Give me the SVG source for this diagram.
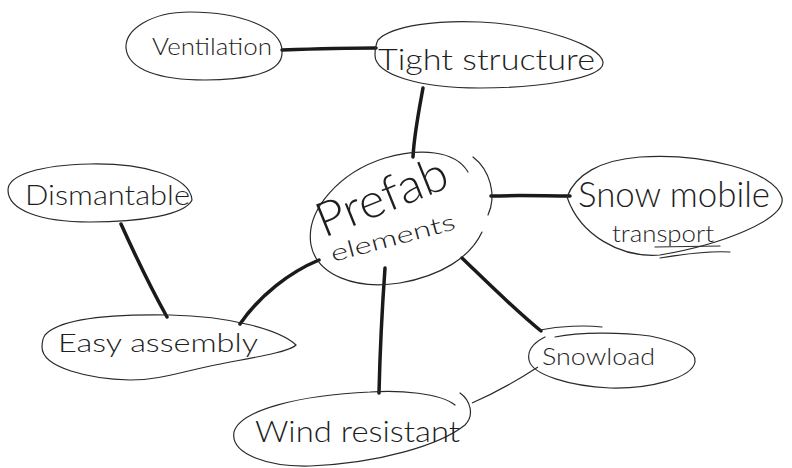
<svg xmlns="http://www.w3.org/2000/svg" width="792" height="468" viewBox="0 0 792 468">
<style>
.o{fill:none;stroke:#2a2a2a;stroke-width:1.2;stroke-linecap:round}
.c{fill:none;stroke:#1a1a1a;stroke-width:3.5;stroke-linecap:round}
.t{fill:none;stroke:#2a2a2a;stroke-width:1.2}
text{font-family:"Lato","Roboto","DejaVu Sans",sans-serif;font-weight:300;fill:#1e1e1e}
</style>
<rect width="792" height="468" fill="#fff"/>
<g id="connectors">
<path class="c" d="M282 50 C310 49 345 48 376 48"/>
<path class="c" d="M423 88 C419 110 414 135 413 157"/>
<path class="c" d="M491 196 C520 195 545 196 570 196"/>
<path class="c" d="M121 224 C135 255 152 290 167 317"/>
<path class="c" d="M319 260 C290 272 260 295 240 324"/>
<path class="c" d="M385 268 C382 310 380 350 379 393"/>
<path class="c" d="M462 258 C490 285 515 310 541 331"/>
<path class="t" d="M538 367 C518 380 495 393 472 403"/>
</g>
<g id="ventilation">
<path class="o" d="M282 52 C283 28 240 12 190 12 C150 12 125 30 126 48 C128 70 160 80 205 80 C250 80 283 72 282 52"/>
<text x="152" y="55" font-size="23" textLength="120" lengthAdjust="spacingAndGlyphs">Ventilation</text>
</g>
<g id="tight">
<path class="o" d="M378 40 C392 25 440 20 480 22 C540 25 600 45 603 62 C605 80 530 88 480 88 C420 88 375 75 375 55 C375 48 376 44 378 40"/>
<text x="378" y="70" font-size="29" textLength="217" lengthAdjust="spacingAndGlyphs">Tight structure</text>
</g>
<g id="prefab">
<path class="o" d="M468 172 C455 150 420 148 385 158 C340 172 305 210 311 245 C317 275 355 290 400 283 C440 276 470 258 482 232"/>
<path class="o" d="M473 157 C490 170 497 195 488 215"/>
<text transform="translate(324 238) rotate(-22)" font-size="48" textLength="138" lengthAdjust="spacingAndGlyphs">Prefab</text>
<text transform="translate(333 262) rotate(-15)" font-size="23" textLength="128" lengthAdjust="spacingAndGlyphs">elements</text>
</g>
<g id="snowmobile">
<path class="o" d="M567 197 C575 175 600 160 640 157 C700 153 775 170 782 198 C786 220 720 245 660 255 C620 258 580 235 567 197"/>
<path class="o" d="M660 258 C690 253 712 251 730 252"/>
<text x="578" y="207" font-size="36" textLength="192" lengthAdjust="spacingAndGlyphs">Snow mobile</text>
<text x="612" y="242" font-size="23" textLength="102" lengthAdjust="spacingAndGlyphs">transport</text>
<path class="o" d="M655 247 L720 246"/>
</g>
<g id="dismantable">
<path class="o" d="M192 200 C190 175 140 163 90 164 C40 165 8 175 8 190 C8 210 40 222 90 222 C140 222 185 215 192 200"/>
<text x="25" y="205" font-size="28" textLength="165" lengthAdjust="spacingAndGlyphs">Dismantable</text>
</g>
<g id="easy">
<path class="o" d="M45 335 C60 318 110 314 170 315 C230 316 280 330 296 345 C290 352 250 358 215 365 C180 372 160 380 130 380 C90 379 42 368 42 347 C42 342 43 338 45 335"/>
<text x="58" y="352" font-size="25" textLength="200" lengthAdjust="spacingAndGlyphs">Easy assembly</text>
</g>
<g id="wind">
<path class="o" d="M455 405 C440 393 400 390 370 392 C300 395 240 410 234 432 C230 455 270 467 310 466 C380 463 440 445 465 425 C475 415 470 400 460 393"/>
<text x="255" y="442" font-size="30" textLength="205" lengthAdjust="spacingAndGlyphs">Wind resistant</text>
</g>
<g id="snowload">
<path class="o" d="M540 330 C560 326 585 325 602 327"/>
<path class="o" d="M555 337 C580 332 620 332 650 336 C680 342 697 352 695 362 C692 378 650 389 610 388 C570 386 532 375 529 360 C527 350 535 342 545 337"/>
<text x="542" y="365" font-size="24" textLength="113" lengthAdjust="spacingAndGlyphs">Snowload</text>
</g>
</svg>
